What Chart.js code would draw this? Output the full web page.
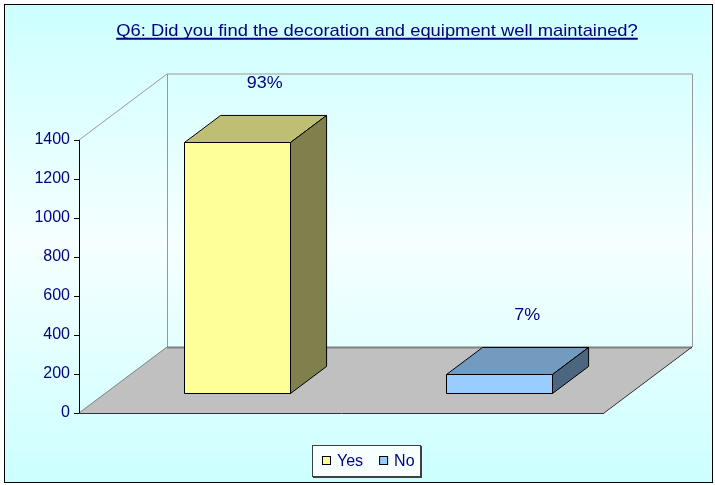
<!DOCTYPE html>
<html>
<head>
<meta charset="utf-8">
<script src="https://cdn.jsdelivr.net/npm/chart.js@4"></script>
<style>
  html, body { margin: 0; padding: 0; background: #fff; }
  canvas { display: block; }
</style>
</head>
<body>
<canvas id="chart" width="715" height="485"></canvas>
<script>
// --- Data ---
const TITLE = "Q6: Did you find the decoration and equipment well maintained?";
const CATEGORIES = ["Yes", "No"];
const VALUES = [1290, 97];
const Y_TICKS = [0, 200, 400, 600, 800, 1000, 1200, 1400];

// --- Look ---
const FRONT_COLORS = ["#ffff99", "#99ccff"];
const TOP_COLORS = ["#bfbf73", "#739bbf"];
const SIDE_COLORS = ["#80804d", "#4d6680"];
const TEXT_COLOR = "#000080";
const FONT = "'Liberation Sans', Arial, sans-serif";
const DEPTH = { x: 88, y: -66 };     // floor depth offset
const BAR_FRONT = 0.3, BAR_BACK = 0.71;
const TEXT_STRETCH = 1.12;           // title / labels are a bit wide in the original

const total = VALUES.reduce((a, b) => a + b, 0);

function poly(ctx, pts, fill, stroke, lw) {
  ctx.beginPath();
  pts.forEach((p, i) => i ? ctx.lineTo(p[0], p[1]) : ctx.moveTo(p[0], p[1]));
  ctx.closePath();
  if (fill) { ctx.fillStyle = fill; ctx.fill(); }
  if (stroke) { ctx.strokeStyle = stroke; ctx.lineWidth = lw || 1; ctx.stroke(); }
}

function line(ctx, a, b, color, lw) {
  ctx.beginPath();
  ctx.moveTo(a[0], a[1]);
  ctx.lineTo(b[0], b[1]);
  ctx.strokeStyle = color;
  ctx.lineWidth = lw || 1;
  ctx.stroke();
}

// draws centred text, stretched horizontally; returns drawn width
function wideText(ctx, text, x, y, stretch) {
  ctx.save();
  ctx.translate(x, y);
  ctx.scale(stretch, 1);
  ctx.textAlign = "center";
  ctx.fillText(text, 0, 0);
  const w = ctx.measureText(text).width * stretch;
  ctx.restore();
  return w;
}

const box3d = {
  id: "box3d",
  beforeDraw(chart) {
    const { ctx, width, height } = chart;
    ctx.save();
    ctx.fillStyle = "#fff";
    ctx.fillRect(0, 0, width, height);
    const g = ctx.createLinearGradient(0, 4, 0, 483);
    g.addColorStop(0, "#ccffff");
    g.addColorStop(0.5, "#f6ffff");
    g.addColorStop(1, "#ccffff");
    ctx.fillStyle = g;
    ctx.fillRect(4, 4, 709, 479);
    ctx.strokeStyle = "#000";
    ctx.lineWidth = 1;
    ctx.strokeRect(4.5, 4.5, 708, 478);
    ctx.restore();
  },
  beforeDatasetsDraw(chart) {
    const { ctx, chartArea: a } = chart;
    const L = a.left, R = a.right, T = a.top, B = a.bottom;
    const dx = DEPTH.x, dy = DEPTH.y;
    ctx.save();

    // walls (outline only)
    line(ctx, [L, T], [L + dx, T + dy], "#999999");
    line(ctx, [L + dx, T + dy], [R + dx, T + dy], "#999999");
    line(ctx, [L + dx + 0.5, T + dy], [L + dx + 0.5, B + dy], "#999999");
    line(ctx, [R + dx + 0.5, T + dy], [R + dx + 0.5, B + dy], "#999999");

    // floor
    poly(ctx, [[L, B], [R, B], [R + dx, B + dy], [L + dx, B + dy]], "#c0c0c0");
    line(ctx, [L + dx, B + dy + 0.5], [R + dx, B + dy + 0.5], "#808080", 2);
    line(ctx, [L, B], [L + dx, B + dy], "#808080");
    line(ctx, [R, B], [R + dx, B + dy], "#333333");
    line(ctx, [L, B + 0.5], [R, B + 0.5], "#333333");
    line(ctx, [L + 0.5, T], [L + 0.5, B], "#000000");

    // bars
    const fx = dx * BAR_FRONT, fy = dy * BAR_FRONT;
    const bx = dx * (BAR_BACK - BAR_FRONT), by = dy * (BAR_BACK - BAR_FRONT);
    ctx.font = "16px " + FONT;
    chart.data.datasets.forEach((ds, i) => {
      const meta = chart.getDatasetMeta(i);
      meta.data.forEach((el, j) => {
        const v = ds.data[j];
        if (v === null || v === undefined) return;
        const x0 = Math.round(el.x - el.width / 2 + fx) + 0.5;
        const x1 = Math.round(el.x + el.width / 2 + fx) + 0.5;
        const y0 = Math.round(el.y + fy) + 0.5;
        const y1 = Math.round(el.base + fy) + 0.5;
        poly(ctx, [[x0, y0], [x1, y0], [x1 + bx, y0 + by], [x0 + bx, y0 + by]], TOP_COLORS[i], "#000");
        poly(ctx, [[x1, y0], [x1 + bx, y0 + by], [x1 + bx, y1 + by], [x1, y1]], SIDE_COLORS[i], "#000");
        poly(ctx, [[x0, y0], [x1, y0], [x1, y1], [x0, y1]], FRONT_COLORS[i], "#000");

        // percentage label
        ctx.fillStyle = TEXT_COLOR;
        ctx.textBaseline = "middle";
        wideText(ctx, Math.round(v / total * 100) + "%", el.x + fx + bx - 8, y0 + by - 32, TEXT_STRETCH);
      });
    });
    ctx.restore();
    return false;
  },
  afterDraw(chart) {
    const { ctx } = chart;
    ctx.save();
    // title
    ctx.font = "17px " + FONT;
    ctx.fillStyle = TEXT_COLOR;
    ctx.textBaseline = "alphabetic";
    const cx = 377, ty = 36;
    const w = wideText(ctx, TITLE, cx, ty, 1.08);
    line(ctx, [cx - w / 2, ty + 2.7], [cx + w / 2, ty + 2.7], TEXT_COLOR, 2);

    // legend
    ctx.font = "16px " + FONT;
    ctx.fillStyle = "#f8ffff";
    ctx.fillRect(312, 445, 109, 32);
    ctx.strokeStyle = "#404040";
    ctx.lineWidth = 1;
    ctx.strokeRect(312.5, 445.5, 108, 31);
    line(ctx, [313, 477.5], [422, 477.5], "#404040");
    line(ctx, [421.5, 446], [421.5, 478], "#404040");
    ctx.textAlign = "left";
    ctx.textBaseline = "alphabetic";
    let lx = 322;
    CATEGORIES.forEach((name, i) => {
      ctx.fillStyle = FRONT_COLORS[i];
      ctx.fillRect(lx, 456, 9, 9);
      ctx.strokeStyle = "#000";
      ctx.strokeRect(lx + 0.5, 456.5, 8, 8);
      ctx.fillStyle = TEXT_COLOR;
      ctx.fillText(name, lx + 15, 466);
      lx += 15 + ctx.measureText(name).width + 16;
    });
    ctx.restore();
  }
};

new Chart(document.getElementById("chart"), {
  type: "bar",
  data: {
    labels: CATEGORIES,
    datasets: CATEGORIES.map((name, i) => ({
      label: name,
      data: VALUES.map((v, j) => (j === i ? v : null)),
      backgroundColor: FRONT_COLORS[i]
    }))
  },
  options: {
    responsive: false,
    animation: false,
    devicePixelRatio: 1,
    layout: { padding: { left: 0, top: 140, right: 111, bottom: 72 } },
    datasets: { bar: { grouped: false, categoryPercentage: 1, barPercentage: 0.404 } },
    plugins: { legend: { display: false }, title: { display: false }, tooltip: { enabled: false } },
    scales: {
      x: { display: false },
      y: {
        min: Y_TICKS[0],
        max: Y_TICKS[Y_TICKS.length - 1],
        afterBuildTicks: s => { s.ticks = Y_TICKS.map(v => ({ value: v })); },
        afterFit: s => { s.width = 79; },
        grid: { drawOnChartArea: false, drawTicks: true, tickLength: 5, color: "#000" },
        border: { display: true, color: "#000" },
        ticks: { color: TEXT_COLOR, font: { family: FONT, size: 16 }, padding: 4, callback: v => String(v) }
      }
    }
  },
  plugins: [box3d]
});
</script>
</body>
</html>
